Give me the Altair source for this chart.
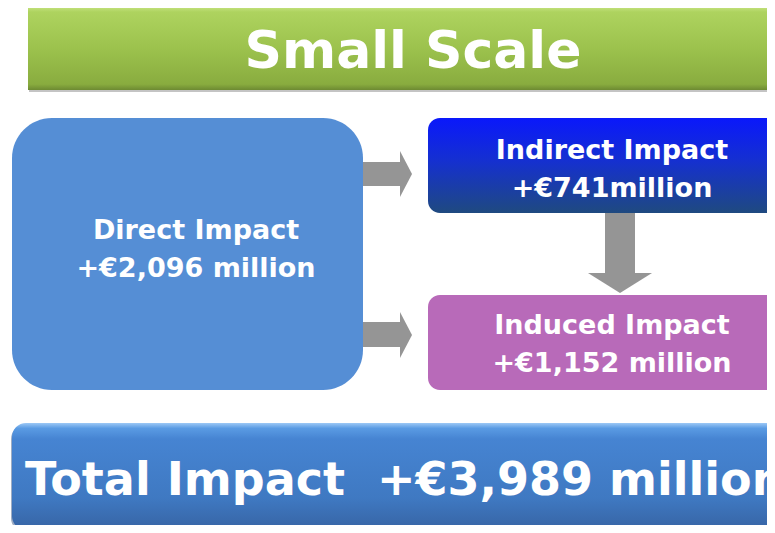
import altair as alt
import pandas as pd

# ---- content ----
title_text = ["Small Scale"]
impact_names = ["Direct Impact", "Indirect Impact", "Induced Impact"]
impact_values = [2096, 741, 1152]
impact_value_labels = ["+€2,096 million", "+€741million", "+€1,152 million"]
total_value = 3989
total_text = ["Total Impact\u00a0 +€3,989 million"]

# ---- diagram layout (pixel units of the 775x533 slide) ----
box_id = ["title", "direct", "indirect", "induced", "total"]
box_left = [28, 12, 428, 428, 12]
box_right = [800, 363, 800, 800, 800]
box_top = [7, 118, 118, 295, 423]
box_bottom = [90, 390, 213, 390, 530]

shaft_left = [363, 363, 605]
shaft_right = [400, 400, 635]
shaft_top = [162, 322, 213]
shaft_bottom = [186, 347, 273]

head_id = ["a1", "a1", "a2", "a2"]
head_x = [400, 412, 400, 412]
head_y = [151, 174, 312, 335]
head_y2 = [197, 174, 358, 335]

down_y = [273, 293]
down_x = [588, 620]
down_x2 = [652, 620]

label_text = title_text + [impact_names[0], impact_value_labels[0],
                           impact_names[1], impact_value_labels[1],
                           impact_names[2], impact_value_labels[2]]
label_x = [413, 196, 196, 612, 612, 612, 612]
label_y = [67.5, 239, 277, 159, 197, 334, 372]
label_size = [52, 27, 27, 27, 27, 27, 27]

total_x = [25]
total_y = [495]
total_size = [46]

boxes = pd.DataFrame({"id": box_id, "x": box_left, "x2": box_right,
                      "y": box_top, "y2": box_bottom})
shafts = pd.DataFrame({"x": shaft_left, "x2": shaft_right,
                       "y": shaft_top, "y2": shaft_bottom})
heads = pd.DataFrame({"id": head_id, "x": head_x, "y": head_y, "y2": head_y2})
down = pd.DataFrame({"y": down_y, "x": down_x, "x2": down_x2})
labels = pd.DataFrame({"text": label_text, "x": label_x, "y": label_y,
                       "size": label_size})
total = pd.DataFrame({"text": total_text, "x": total_x, "y": total_y,
                      "size": total_size})

# the page has an 8px margin: the plot covers slide pixels 8..767 x 8..525
XS = alt.Scale(domain=[8, 767], nice=False, zero=False)
YS = alt.Scale(domain=[8, 525], nice=False, zero=False, reverse=True)


def grad(stops):
    return alt.LinearGradient(
        gradient="linear",
        stops=[alt.GradientStop(color=c, offset=o) for o, c in stops],
        x1=0, x2=0, y1=0, y2=1)


def box(bid, fill, radius=0, dx=0, dy=0, opacity=1.0):
    return alt.Chart(boxes).transform_filter(
        alt.datum.id == bid
    ).mark_rect(color=fill, cornerRadius=radius, clip=True, opacity=opacity,
                xOffset=dx, yOffset=dy, x2Offset=dx, y2Offset=dy).encode(
        x=alt.X("x:Q", scale=XS, axis=None),
        x2="x2:Q",
        y=alt.Y("y:Q", scale=YS, axis=None),
        y2="y2:Q",
    )


title_box = box("title", grad([(0, "#c4e27e"), (0.06, "#aed35f"), (0.5, "#9cc24d"),
                               (0.93, "#89ac3f"), (1, "#6d8a32")]))
title_shadow = box("title", "#555555", 0, 1, 2, 0.35)
direct_box = box("direct", "#558ed5", 40)
indirect_box = box("indirect", grad([(0, "#0a18fb"), (0.45, "#1530d0"), (1, "#1f4a80")]), 12)
induced_box = box("induced", "#b86ab9", 12)
total_shadow = box("total", "#2a4a7a", 14, -1, 2, 0.45)
total_box = box("total", grad([(0, "#9cc8f6"), (0.05, "#5a9be3"), (0.15, "#4684d2"),
                               (0.7, "#3f79c2"), (1, "#3764a4")]), 14)

shaft_layer = alt.Chart(shafts).mark_rect(color="#959595").encode(
    x=alt.X("x:Q", scale=XS, axis=None), x2="x2:Q",
    y=alt.Y("y:Q", scale=YS, axis=None), y2="y2:Q")

head_layer = alt.Chart(heads).mark_area(color="#959595", orient="vertical").encode(
    x=alt.X("x:Q", scale=XS, axis=None),
    y=alt.Y("y:Q", scale=YS, axis=None), y2="y2:Q",
    detail="id:N")

down_layer = alt.Chart(down).mark_area(color="#959595", orient="horizontal").encode(
    y=alt.Y("y:Q", scale=YS, axis=None),
    x=alt.X("x:Q", scale=XS, axis=None), x2="x2:Q")

label_layer = alt.Chart(labels).mark_text(
    color="white", font="DejaVu Sans", fontWeight="bold",
    align="center", baseline="alphabetic").encode(
    x=alt.X("x:Q", scale=XS, axis=None),
    y=alt.Y("y:Q", scale=YS, axis=None),
    text="text:N",
    size=alt.Size("size:Q", scale=None))

total_layer = alt.Chart(total).mark_text(
    color="white", font="DejaVu Sans", fontWeight="bold",
    align="left", baseline="alphabetic", clip=True).encode(
    x=alt.X("x:Q", scale=XS, axis=None),
    y=alt.Y("y:Q", scale=YS, axis=None),
    text="text:N",
    size=alt.Size("size:Q", scale=None))

chart = alt.layer(
    title_shadow, title_box, direct_box, indirect_box, induced_box,
    total_shadow, total_box, shaft_layer, head_layer, down_layer,
    label_layer, total_layer
).properties(
    width=759, height=517, padding=0, background="white",
    autosize=alt.AutoSizeParams(type="none")
).configure_view(stroke=None)

chart.save("out.html", embed_options={"renderer": "svg", "actions": False})
